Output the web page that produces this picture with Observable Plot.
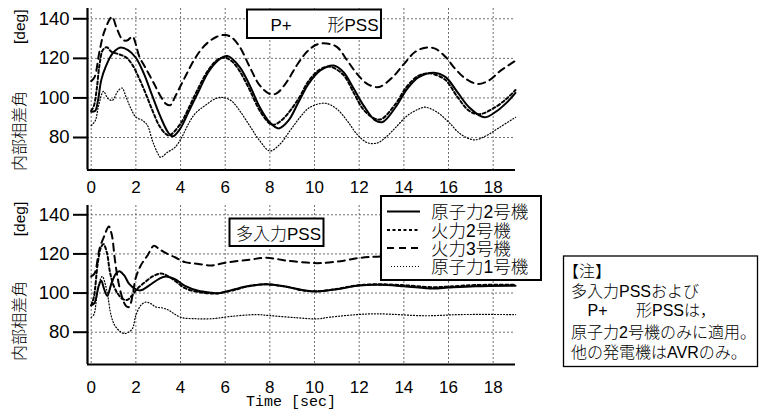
<!DOCTYPE html>
<html><head><meta charset="utf-8">
<script src="https://cdn.jsdelivr.net/npm/d3@7"></script>
<script src="https://cdn.jsdelivr.net/npm/@observablehq/plot@0.6"></script>
<style>
body{margin:0;background:#fff;}
#wrap{position:relative;width:760px;height:411px;overflow:hidden;background:#fff;}
#wrap > svg{position:absolute;left:0;}
</style></head><body><div id="wrap"></div>
<script>
// ---- labels ----
const seriesNames = ["原子力2号機", "火力2号機", "火力3号機", "原子力1号機"];
const topTitle = ["P+", "形PSS"];
const bottomTitle = "多入力PSS";
const yLabelMain = "内部相差角";
const yLabelUnit = "[deg]";
const xLabel = "Time [sec]";
const noteLines = ["【注】", "多入力PSSおよび", "P+", "形PSSは，", "原子力2号機のみに適用。", "他の発電機はAVRのみ。"];
const xTicks = [0, 2, 4, 6, 8, 10, 12, 14, 16, 18];
const yTicks = [80, 100, 120, 140];

// ---- top panel (P+ 形PSS): [time, deg] ----
const topNuclear2 = [[0,93],[0.18,93.5],[0.3,98.5],[0.45,109],[0.65,115.8],[0.95,122.4],[1.28,125.4],[1.65,124.2],[2.0,120.3],[2.35,112.5],[2.72,101.5],[3.1,90.5],[3.45,82.5],[3.65,80.6],[3.97,84.2],[4.35,92.7],[4.79,102.9],[5.24,113],[5.68,119],[6.1,121.2],[6.65,115.6],[7.1,106.3],[7.55,95.3],[8.0,87.6],[8.4,84.6],[8.83,88.5],[9.28,97.8],[9.73,107.1],[10.26,113.9],[10.86,116.4],[11.3,113],[11.76,104.6],[12.2,96.1],[12.7,88.8],[13.05,87.8],[13.63,95.3],[14.15,104.6],[14.67,110.5],[15.35,112.7],[15.87,110.5],[16.4,102.9],[16.92,95.3],[17.6,90.2],[18.12,93],[18.64,98],[19.0,102.5]];
const topThermal2 = [[0,93.5],[0.12,96],[0.25,104.7],[0.37,116.6],[0.52,124.2],[0.7,125.6],[0.9,123.4],[1.26,122],[1.56,120.5],[1.85,116.6],[2.15,109.8],[2.44,102.2],[2.74,93.7],[3.04,86.1],[3.33,81.9],[3.5,81],[4.0,87],[4.35,94.5],[4.8,105],[5.24,114],[5.68,119.5],[6.0,120.3],[6.3,118.5],[6.65,113.5],[7.1,104],[7.55,93.5],[8.0,87],[8.2,86.5],[8.6,89.5],[9.28,99.5],[9.73,108.5],[10.26,114.5],[10.7,115.8],[11.3,111.5],[11.76,102.5],[12.2,94],[12.7,89.5],[13.0,89.3],[13.63,97],[14.15,106],[14.67,111.3],[15.1,112.4],[15.35,112],[15.87,109],[16.4,100.5],[16.92,93.5],[17.4,91.8],[18.12,95.5],[18.64,100],[19.0,104]];
const topThermal3 = [[0,108.5],[0.15,110.5],[0.37,123.4],[0.59,133.6],[0.93,141],[1.14,135.3],[1.4,129.5],[1.6,129],[1.85,131],[2.0,127],[2.15,121],[2.44,115],[2.8,107.5],[3.1,101],[3.35,97],[3.55,96.4],[3.75,100.5],[4.2,110.5],[4.64,119.8],[5.09,126.6],[5.6,130.8],[6.0,131.8],[6.3,130.5],[6.65,125.8],[7.1,115.6],[7.55,106.3],[8.0,102],[8.3,102.3],[8.75,108],[9.2,116.4],[9.65,123.2],[10.1,127],[10.55,127.5],[11.0,125.8],[11.46,119],[11.9,112.2],[12.36,107.1],[12.8,105.4],[13.0,106],[13.5,110.5],[14.0,117.1],[14.5,123.2],[14.97,125.4],[15.4,124.9],[15.87,120.7],[16.3,114.7],[16.77,109.7],[17.3,107.1],[17.8,108.8],[18.35,113.9],[19.0,118.8]];
const topNuclear1 = [[0,86],[0.18,88.5],[0.33,96],[0.55,103.3],[0.75,99.7],[0.95,98.8],[1.19,103.4],[1.38,105],[1.56,100.5],[1.78,94.6],[2.0,90.3],[2.3,88.6],[2.52,86.1],[2.74,78.4],[2.96,72.5],[3.11,70],[3.41,72.5],[3.75,75],[4.05,80],[4.35,86.8],[4.64,91.9],[5.09,96.1],[5.6,99.8],[5.9,100.2],[6.28,98.5],[6.65,93.5],[7.1,85.9],[7.55,78.3],[8.0,73.2],[8.45,76.6],[8.9,83.4],[9.35,90.2],[9.8,95.3],[10.48,97.3],[11.0,94.4],[11.46,88.5],[11.9,81.7],[12.36,77.4],[12.8,77.2],[13.18,80],[13.63,85],[14.15,91],[14.67,94.4],[14.97,95.3],[15.5,92.7],[16.02,87.6],[16.54,81.7],[17.15,78.8],[17.67,80.8],[18.27,85],[19.0,90.2]];

// ---- bottom panel (多入力PSS): [time, deg] ----
const botNuclear2 = [[0,93.7],[0.15,95],[0.32,103],[0.45,106.3],[0.58,102],[0.72,98.6],[0.9,104.7],[1.1,109.8],[1.26,111.2],[1.48,109],[1.7,104.7],[2.0,101.9],[2.22,101.4],[2.6,103.9],[3.04,107.3],[3.33,108.5],[3.75,107.1],[4.2,103.7],[4.79,101.2],[5.39,100.2],[5.68,99.9],[6.28,101.5],[7.1,103.7],[7.85,104.5],[8.75,103.2],[9.5,101.5],[10.1,100.8],[11.0,102],[11.9,103.7],[12.8,104.2],[14.0,103.5],[15.3,102.3],[16.0,102.8],[17.2,103.5],[19.0,103.8]];
const botThermal2 = [[0,93.7],[0.12,98],[0.3,115.8],[0.44,123.4],[0.55,125],[0.7,120.8],[0.84,110.7],[1.0,103.9],[1.2,99.5],[1.4,97],[1.6,96.5],[1.85,99],[2.05,102],[2.4,105.5],[2.75,108.5],[3.1,110],[3.3,109.5],[3.75,106.3],[4.2,102.5],[4.79,100.5],[5.39,99.8],[5.68,99.8],[6.28,101.2],[7.1,103.6],[7.85,104.5],[8.75,103.2],[9.5,101.3],[10.1,100.9],[11.0,102.1],[11.9,103.9],[12.8,104.5],[14.0,104],[15.3,103],[16.0,103.3],[17.2,104.1],[19.0,104.2]];
const botThermal3 = [[0,108.5],[0.15,110],[0.37,122.5],[0.59,129.3],[0.79,134],[0.93,129.3],[1.04,119],[1.19,107.3],[1.38,98],[1.56,93.4],[1.7,92.9],[1.85,98.8],[2.0,108],[2.22,114.1],[2.52,119.2],[2.81,124.2],[3.04,122.5],[3.33,120.5],[3.75,118.3],[4.2,115.8],[4.8,114.9],[5.4,114.1],[6.0,115.5],[7.1,117.1],[7.85,118],[8.75,116.6],[9.65,115.6],[10.25,115.3],[11.16,116.3],[12.05,118],[12.8,118.6],[14.0,119],[16.0,119],[19.0,119]];
const botNuclear1 = [[0,87.6],[0.12,89],[0.25,98],[0.38,106],[0.5,108.5],[0.62,105],[0.74,98.8],[0.89,88.6],[1.05,83.6],[1.28,80.5],[1.48,79.3],[1.7,80.2],[1.85,81.9],[2.0,88.6],[2.22,93.7],[2.44,95.4],[2.67,94.6],[2.89,92.9],[3.19,92.4],[3.48,91.2],[3.7,89.5],[4.05,87.5],[4.64,86.9],[5.4,86.9],[6.28,88.1],[7.4,89],[8.0,88.5],[9.2,87.4],[10.1,86.8],[10.7,87.7],[11.9,89],[12.8,89.4],[15.0,88.4],[16.5,89],[19.0,89]];

// ---- styles ----
const lineStyles = [
  {strokeWidth: 2, strokeDasharray: null},
  {strokeWidth: 2, strokeDasharray: "3,2.5"},
  {strokeWidth: 2, strokeDasharray: "7,5"},
  {strokeWidth: 1.2, strokeDasharray: "1,2"}
];
const xDomain = [-0.166, 19.0];

function panel(series, o) {
  const grid = {stroke: "#707070", strokeOpacity: 1, strokeWidth: 1, strokeDasharray: "2,2"};
  return Plot.plot({
    width: 760, height: o.height,
    marginLeft: 87, marginRight: 245, marginTop: o.marginTop, marginBottom: o.marginBottom,
    style: {fontFamily: "'Liberation Sans', Arial, sans-serif", fontSize: "17px", background: "transparent", color: "#000", overflow: "visible"},
    x: {domain: xDomain},
    y: {domain: o.yDomain},
    marks: [
      Plot.gridX(xTicks, grid),
      Plot.gridY(yTicks, grid),
      Plot.axisX(xTicks, {tickSize: 0, tickPadding: o.xPad, label: null, fontSize: 17}),
      Plot.axisY(yTicks, {tickSize: 14, tickPadding: 4, strokeWidth: 2, label: null, fontSize: 18.5}),
      ...series.map((d, i) => Plot.line(d, {
        x: p => p[0], y: p => p[1], curve: "catmull-rom", stroke: "#000",
        strokeWidth: lineStyles[i].strokeWidth, strokeDasharray: lineStyles[i].strokeDasharray
      })),
      Plot.ruleX([xDomain[0]], {strokeWidth: 2.2}),
      Plot.ruleY([o.yDomain[0]], {strokeWidth: 2.2})
    ]
  });
}

const wrap = document.getElementById("wrap");
const topChart = panel([topNuclear2, topThermal2, topThermal3, topNuclear1],
  {height: 200, marginTop: 8, marginBottom: 30.5, yDomain: [63.57, 145.2], xPad: 11.3});
topChart.style.top = "0px";
wrap.appendChild(topChart);
const botChart = panel([botNuclear2, botThermal2, botThermal3, botNuclear1],
  {height: 216, marginTop: 10, marginBottom: 47, yDomain: [63.49, 144.75], xPad: 16});
botChart.style.top = "195px";
wrap.appendChild(botChart);

// ---- annotations overlay ----
const ov = d3.create("svg").attr("width", 760).attr("height", 411)
  .style("position", "absolute").style("left", "0px").style("top", "0px")
  .attr("font-family", "'Liberation Sans', Arial, 'Noto Sans CJK JP', sans-serif")
  .attr("font-weight", 300)
  .attr("fill", "#000");

// y labels
[[131, 26.7], [321, 219]].forEach(([cy, uy]) => {
  ov.append("text").attr("transform", `translate(19.5,${cy}) rotate(-90)`)
    .attr("text-anchor", "middle").attr("dominant-baseline", "central")
    .attr("font-size", 16).text(yLabelMain);
  ov.append("text").attr("transform", `translate(19.5,${uy}) rotate(-90)`)
    .attr("text-anchor", "middle").attr("dominant-baseline", "central")
    .attr("font-size", 15.5).text(yLabelUnit);
});

// panel title boxes
ov.append("rect").attr("x", 247).attr("y", 9.5).attr("width", 134).attr("height", 28.5)
  .attr("fill", "#fff").attr("stroke", "#000").attr("stroke-width", 2);
ov.append("text").attr("x", 270.5).attr("y", 31).attr("font-size", 17).text(topTitle[0]);
ov.append("text").attr("x", 327.5).attr("y", 31).attr("font-size", 17).text(topTitle[1]);

ov.append("rect").attr("x", 229.5).attr("y", 218.5).attr("width", 94).attr("height", 27.5)
  .attr("fill", "#fff").attr("stroke", "#000").attr("stroke-width", 2);
ov.append("text").attr("x", 236).attr("y", 239.5).attr("font-size", 17).text(bottomTitle);

// legend
ov.append("rect").attr("x", 381).attr("y", 196).attr("width", 160).attr("height", 84)
  .attr("fill", "#fff").attr("stroke", "#000").attr("stroke-width", 2);
const legY = [211.5, 230, 248, 266.5];
seriesNames.forEach((name, i) => {
  ov.append("line").attr("x1", i === 3 ? 391 : 387).attr("x2", 420)
    .attr("y1", legY[i]).attr("y2", legY[i]).attr("stroke", "#000")
    .attr("stroke-width", lineStyles[i].strokeWidth)
    .attr("stroke-dasharray", lineStyles[i].strokeDasharray);
  ov.append("text").attr("x", 431).attr("y", legY[i] + 6.6).attr("font-size", 17.5).text(name);
});

// note box
ov.append("rect").attr("x", 563.5).attr("y", 256).attr("width", 194).attr("height", 110.5)
  .attr("fill", "#fff").attr("stroke", "#000").attr("stroke-width", 1.3);
const nfs = 16;
ov.append("text").attr("x", 563).attr("y", 276.5).attr("font-size", nfs).text(noteLines[0]);
ov.append("text").attr("x", 571).attr("y", 296.5).attr("font-size", nfs).text(noteLines[1]);
ov.append("text").attr("x", 587.5).attr("y", 316).attr("font-size", nfs).text(noteLines[2]);
ov.append("text").attr("x", 636).attr("y", 316).attr("font-size", nfs).text(noteLines[3]);
ov.append("text").attr("x", 571).attr("y", 338).attr("font-size", nfs).text(noteLines[4]);
ov.append("text").attr("x", 571).attr("y", 357.5).attr("font-size", nfs).text(noteLines[5]);

// x label
ov.append("text").attr("x", 291).attr("y", 406).attr("text-anchor", "middle")
  .attr("font-family", "'Liberation Mono', 'DejaVu Sans Mono', monospace")
  .attr("font-size", 15).text(xLabel);

wrap.appendChild(ov.node());
</script></body></html>
